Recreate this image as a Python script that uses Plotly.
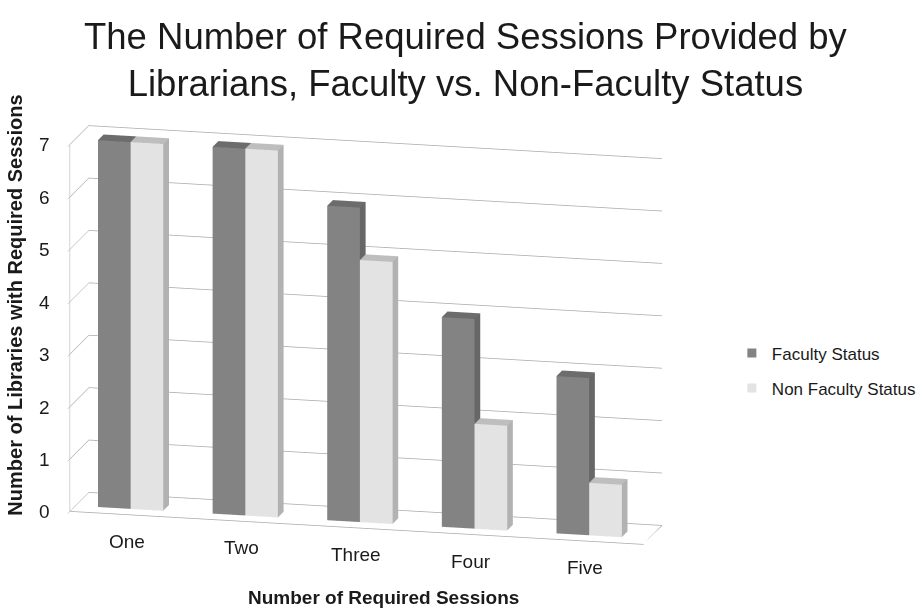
import plotly.graph_objects as go

# Data
categories = ["One", "Two", "Three", "Four", "Five"]
faculty = [7, 7, 6, 4, 3]
non_faculty = [7, 7, 5, 2, 1]
series_names = ["Faculty Status", "Non Faculty Status"]
z_ticks = [0, 1, 2, 3, 4, 5, 6, 7]

# Styling
FONT = "Liberation Sans, Arial, sans-serif"
TEXT = "#1a1a1a"
BAR_W = 0.285                 # width of one column in category units
BAR_SHIFT = -0.02             # small left shift of each column pair
DEPTH0, DEPTH1 = 0.30, 0.60   # column depth band inside the [0, 1] depth axis
X_RANGE = [-0.5, len(categories) - 0.5]
Y_RANGE = [0, 1]
Z_RANGE = [0, max(z_ticks)]
GRID = "#a9a9a9"
BOX_SCALE = 1.65              # overall size of the 3D box on the page

# face colours per series
palettes = [
    dict(front="#838383", top="#6c6c6c", right="#676767", other="#707070"),
    dict(front="#e3e3e3", top="#bebebe", right="#b2b2b2", other="#c8c8c8"),
]


def column_mesh(x0, x1, y0, y1, h):
    xs = [x0, x1, x1, x0, x0, x1, x1, x0]
    ys = [y0, y0, y1, y1, y0, y0, y1, y1]
    zs = [0, 0, 0, 0, h, h, h, h]
    faces = [
        ((0, 1, 5), "front"), ((0, 5, 4), "front"),
        ((4, 5, 6), "top"), ((4, 6, 7), "top"),
        ((1, 2, 6), "right"), ((1, 6, 5), "right"),
        ((0, 3, 7), "other"), ((0, 7, 4), "other"),
        ((3, 2, 6), "other"), ((3, 6, 7), "other"),
        ((0, 1, 2), "other"), ((0, 2, 3), "other"),
    ]
    return xs, ys, zs, faces


fig = go.Figure()

for s, values in enumerate([faculty, non_faculty]):
    pal = palettes[s]
    X, Y, Z, I, J, K, C = [], [], [], [], [], [], []
    for c, v in enumerate(values):
        x0 = c + BAR_SHIFT - BAR_W + s * BAR_W
        xs, ys, zs, faces = column_mesh(x0, x0 + BAR_W, DEPTH0, DEPTH1, v)
        base = len(X)
        X += xs
        Y += ys
        Z += zs
        for (a, b, d), key in faces:
            I.append(base + a)
            J.append(base + b)
            K.append(base + d)
            C.append(pal[key])
    fig.add_trace(go.Mesh3d(
        x=X, y=Y, z=Z, i=I, j=J, k=K, facecolor=C,
        flatshading=True,
        lighting=dict(ambient=1.0, diffuse=0.0, specular=0.0,
                      roughness=1.0, fresnel=0.0),
        hoverinfo="skip", showlegend=False, name=series_names[s],
    ))
    # legend entry
    fig.add_trace(go.Scatter3d(
        x=[None], y=[None], z=[None], mode="markers", name=series_names[s],
        legendgroup=series_names[s],
        marker=dict(symbol="square", size=9, color=pal["front"]),
        showlegend=True,
    ))

# floor outline (front and right edges)
fig.add_trace(go.Scatter3d(
    x=[X_RANGE[0], X_RANGE[1], X_RANGE[1]],
    y=[Y_RANGE[0], Y_RANGE[0], Y_RANGE[1]],
    z=[Z_RANGE[0]] * 3,
    mode="lines", line=dict(color=GRID, width=1.5),
    hoverinfo="skip", showlegend=False,
))

# upright tick labels placed at the axis positions
scene_labels = []
for c, name in enumerate(categories):
    scene_labels.append(dict(
        x=c, y=Y_RANGE[0], z=Z_RANGE[0], text=name, showarrow=False,
        yshift=-26, font=dict(size=19, family=FONT, color=TEXT)))
for t in z_ticks:
    scene_labels.append(dict(
        x=X_RANGE[0], y=Y_RANGE[0], z=t, text=str(t), showarrow=False,
        xshift=-25, font=dict(size=19, family=FONT, color=TEXT)))

axis_common = dict(showbackground=False, zeroline=False, showspikes=False,
                   title=dict(text=""))

fig.update_layout(
    width=921, height=608,
    margin=dict(l=0, r=0, t=0, b=0),
    paper_bgcolor="white",
    font=dict(family=FONT, color=TEXT),
    showlegend=True,
    legend=dict(x=0.815, y=0.39, xanchor="left", yanchor="middle",
                font=dict(size=17, family=FONT, color=TEXT),
                tracegroupgap=10, itemclick=False, itemdoubleclick=False),
    scene=dict(
        domain=dict(x=[0.0052, 0.8092], y=[0.0714, 0.8254]),
        aspectmode="manual",
        aspectratio=dict(x=1.56 * BOX_SCALE, y=0.215 * BOX_SCALE,
                         z=1.0 * BOX_SCALE),
        xaxis=dict(range=X_RANGE, tickvals=list(range(len(categories))),
                   showticklabels=False, showgrid=False, showline=False,
                   ticks="", **axis_common),
        yaxis=dict(range=Y_RANGE, showgrid=False, showline=False,
                   showticklabels=False, ticks="", **axis_common),
        zaxis=dict(range=Z_RANGE, tickvals=z_ticks, showgrid=True,
                   gridcolor=GRID, gridwidth=1.5, showline=True,
                   linecolor=GRID, ticks="outside", ticklen=6,
                   tickcolor=GRID, showticklabels=False,
                   **axis_common),
        camera=dict(eye=dict(x=0.589, y=-2.455, z=0.624),
                    center=dict(x=0, y=0, z=0),
                    up=dict(x=0, y=0, z=1),
                    projection=dict(type="orthographic")),
        annotations=scene_labels,
        dragmode=False,
    ),
    annotations=[
        dict(text="The Number of Required Sessions Provided by<br>"
                  "Librarians, Faculty vs. Non-Faculty Status",
             x=0.519, y=1 - 14 / 608, xref="paper", yref="paper",
             xanchor="center", yanchor="top", showarrow=False,
             font=dict(size=36.5, family=FONT, color=TEXT)),
        dict(text="<b>Number of Libraries with Required Sessions</b>",
             x=15 / 921, y=1 - 305 / 608, xref="paper", yref="paper",
             xanchor="center", yanchor="middle",
             textangle=-90, showarrow=False,
             font=dict(size=20, family=FONT, color=TEXT)),
        dict(text="<b>Number of Required Sessions</b>",
             x=393 / 921, y=1 - 597 / 608, xref="paper", yref="paper",
             xanchor="center", yanchor="middle", showarrow=False,
             font=dict(size=19, family=FONT, color=TEXT)),
    ],
)

fig.write_html("out.html")
